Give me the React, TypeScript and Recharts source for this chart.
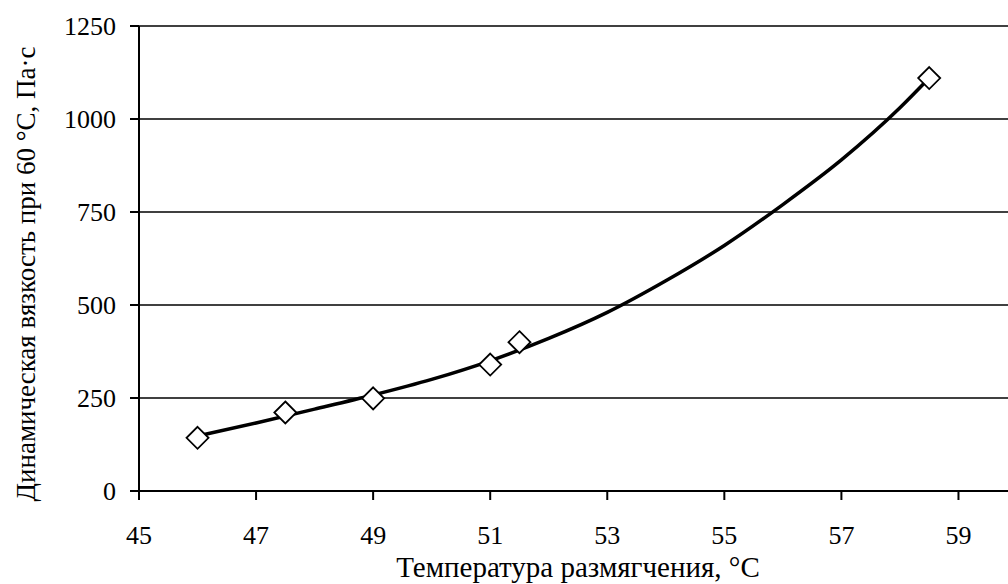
import React from "react"
import { ComposedChart, Line, Scatter, XAxis, YAxis, CartesianGrid, Label } from "recharts"

// measured points
const pointT = [46, 47.5, 49, 51, 51.5, 58.5]
const pointVisc = [143, 211, 249, 340, 400, 1110]

// trend curve
const trendT = [46, 47, 48, 49, 50, 51, 52, 53, 54, 55, 56, 57, 58, 58.5]
const trendVisc = [148, 183, 220, 258, 300, 350, 410, 480, 565, 660, 770, 890, 1030, 1110]

const xTicks = [45, 47, 49, 51, 53, 55, 57, 59]
const yTicks = [0, 250, 500, 750, 1000, 1250]

const points = pointT.map((x, i) => ({ x, y: pointVisc[i] }))
const trend = trendT.map((x, i) => ({ x, y: trendVisc[i] }))

const font = "Liberation Serif"

function Diamond(props: any) {
  const { cx, cy } = props
  const r = 11
  return (
    <path
      d={`M${cx},${cy - r} L${cx + r},${cy} L${cx},${cy + r} L${cx - r},${cy} Z`}
      fill="#fff"
      stroke="#000"
      strokeWidth={1.8}
    />
  )
}

function XTick(props: any) {
  const { x, y, payload } = props
  return (
    <text x={x} y={y} dy="0.71em" textAnchor="middle" fontSize={26} fontFamily={font} fill="#000">
      {payload.value}
    </text>
  )
}

function YTick(props: any) {
  const { x, y, payload } = props
  return (
    <text x={x} y={y} dy="0.35em" textAnchor="end" fontSize={26} fontFamily={font} fill="#000">
      {payload.value}
    </text>
  )
}

function YTitle() {
  const cx = 35
  const cy = 274
  return (
    <text
      x={cx}
      y={cy}
      transform={`rotate(-90, ${cx}, ${cy})`}
      textAnchor="middle"
      fontSize={27}
      fontFamily={font}
      fill="#000"
    >
      Динамическая вязкость при 60 °С, Па·с
    </text>
  )
}

function XTitle(props: any) {
  const { viewBox } = props
  const cx = viewBox.x + viewBox.width / 2
  return (
    <text x={cx} y={577} textAnchor="middle" fontSize={29} fontFamily={font} fill="#000">
      Температура размягчения, °С
    </text>
  )
}

export default function App() {
  return (
    <div
      style={{
        position: "absolute",
        left: 0,
        top: 0,
        width: 1008,
        height: 584,
        overflow: "hidden",
        background: "#fff",
        fontFamily: font,
      }}
    >
      <style>{`.recharts-wrapper text { font-family: "Liberation Serif" !important; }`}</style>
      <ComposedChart width={1030} height={584} margin={{ top: 26, right: 13, left: 0, bottom: 0 }}>
        <CartesianGrid vertical={false} stroke="#000" strokeWidth={1.5} />
        <XAxis
          type="number"
          dataKey="x"
          domain={[45, 60]}
          ticks={xTicks}
          allowDataOverflow
          height={93}
          tickSize={9}
          tickMargin={26}
          stroke="#000"
          strokeWidth={2}
          tick={<XTick />}
        >
          <Label content={<XTitle />} />
        </XAxis>
        <YAxis
          type="number"
          domain={[0, 1250]}
          ticks={yTicks}
          width={139}
          tickSize={9}
          tickMargin={14}
          stroke="#000"
          strokeWidth={2}
          tick={<YTick />}
        >
          <Label content={<YTitle />} />
        </YAxis>
        <Line
          data={trend}
          dataKey="y"
          type="monotone"
          stroke="#000"
          strokeWidth={3.5}
          dot={false}
          activeDot={false}
          isAnimationActive={false}
        />
        <Scatter data={points} dataKey="y" shape={<Diamond />} isAnimationActive={false} />
      </ComposedChart>
    </div>
  )
}
